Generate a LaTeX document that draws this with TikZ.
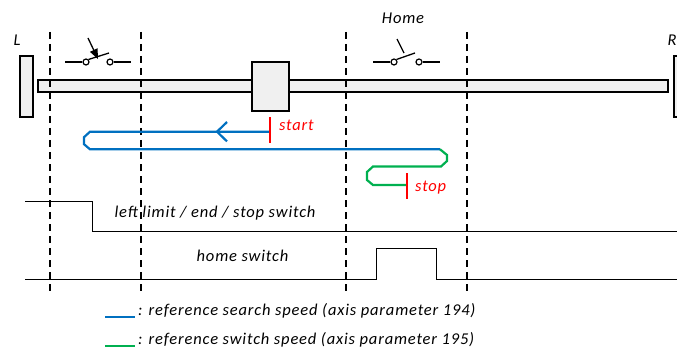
\documentclass[tikz,border=0pt]{standalone}
\usepackage{fontspec}
\setmainfont{Carlito}[LetterSpace=5]
\usetikzlibrary{arrows,positioning}
\definecolor{searchblue}{RGB}{0,112,192}
\definecolor{switchgreen}{RGB}{0,176,80}
\tikzset{
    %Define standard arrow tip
    >=stealth',
    %Define style for the mechanics
    endstop/.style={
           rectangle,
           draw=black, line width=2pt,
           fill=black!6!white,
           minimum width=13pt,
           minimum height=61pt,
           inner sep=0pt},
    rod/.style={
           rectangle,
           draw=black, line width=2pt,
           fill=black!6!white,
           minimum width=630pt,
           minimum height=12pt,
           inner sep=0pt},
    carriage/.style={
           rectangle,
           draw=black, line width=2pt,
           fill=black!6!white,
           minimum width=37pt,
           minimum height=49pt,
           inner sep=0pt},
    contact/.style={
           circle,
           draw=black, line width=1.2pt,
           fill=white,
           minimum size=6pt,
           inner sep=0pt},
    lbl/.style={
           font=\fontsize{16.5}{19}\selectfont\itshape,
           inner sep=1pt},
    % Define line styles
    guide/.style={
           line width=2pt,
           dash pattern=on 7pt off 5pt},
    wire/.style={line width=1.3pt},
    signal/.style={line width=1.5pt},
    search/.style={searchblue, line width=2.2pt},
    switching/.style={switchgreen, line width=2.2pt},
    redbar/.style={red, line width=2.2pt}
}
\begin{document}
\begin{tikzpicture}[x=1pt,y=-1pt]
\useasboundingbox (0,0) rectangle (677,350);
% axis with end stops
\node[rod](rod) at (353,86.5){};
\node[endstop](stopL) at (26.5,86.5){};
\node[endstop](stopR) at (680,86.5){};
\node[lbl](L) at (17,40){L};
\node[lbl](R) at (672,40){R};
% switch positions
\foreach \x/\n in {50/a,141/b,346/c,467/d}{
  \coordinate (top\n) at (\x,32);
  \coordinate (bot\n) at (\x,295);
  \draw[guide] (top\n) -- (bot\n);
}
\node[carriage](car) at (270.5,86.5){};
% limit switch
\node[contact](ls1) at (86,62){};
\node[contact](ls2) at (110,62){};
\draw[wire] (ls1.west) -- ++(-17,0);
\draw[wire] (ls2.east) -- ++(17,0);
\draw[wire] (ls1.north east) -- (109,53);
\draw[wire,-triangle 45] (88,38) -- (98,59);
% home switch
\node[lbl](home) at (403,18){Home};
\node[contact](hs1) at (394,62){};
\node[contact](hs2) at (419,62){};
\draw[wire] (hs1.west) -- ++(-17,0);
\draw[wire] (hs2.east) -- ++(17,0);
\draw[wire] (hs1.north east) -- (415,53);
\draw[wire] (397,39) -- (404,53);
% reference run
\coordinate (start) at (270,131.7);
\coordinate (turn) at (440,149.3);
\coordinate (stop) at (407,185);
\draw[search] (start) -- ++(-180,0) -- ++(-6,5.5) -- ++(0,7) -- ++(6,5.1) -- (turn);
\draw[search] (227,122) -- (217,131.7) -- (227,141.4);
\draw[switching] (turn) -- ++(7,5.7) -- ++(0,6) -- ++(-6,5.5) -- ++(-68,0)
    -- ++(-6,5.5) -- ++(0,8) -- ++(6,5) -- (stop);
\draw[redbar] (start) ++(0,-14.5) -- ++(0,26);
\draw[redbar] (stop) ++(0,-12) -- ++(0,26);
\node[lbl,red,right=8pt of start,yshift=6pt](startlbl){start};
\node[lbl,red,right=7pt of stop,yshift=-3pt](stoplbl){stop};
% switch signals
\draw[signal] (25,201.7) -- (92.7,201.7) -- (92.7,231.7) -- (677,231.7);
\node[lbl](limlbl) at (215,213){left limit / end / stop switch};
\draw[signal] (25,279.3) -- (376.7,279.3) -- (376.7,248.3) -- (436.7,248.3)
    -- (436.7,279.3) -- (677,279.3);
\node[lbl](homelbl) at (242.5,256){home switch};
% legend
\coordinate (leg1) at (105,316.7);
\coordinate (leg2) at (105,345.7);
\draw[search] (leg1) -- ++(30,0) coordinate (leg1e);
\draw[switching] (leg2) -- ++(30,0) coordinate (leg2e);
\node[lbl,anchor=base west,inner sep=0pt](leg1lbl) at ([xshift=3pt,yshift=1.5pt]leg1e){: reference search speed (axis parameter 194)};
\node[lbl,anchor=base west,inner sep=0pt](leg2lbl) at ([xshift=3pt,yshift=1.5pt]leg2e){: reference switch speed (axis parameter 195)};
\end{tikzpicture}
\end{document}
